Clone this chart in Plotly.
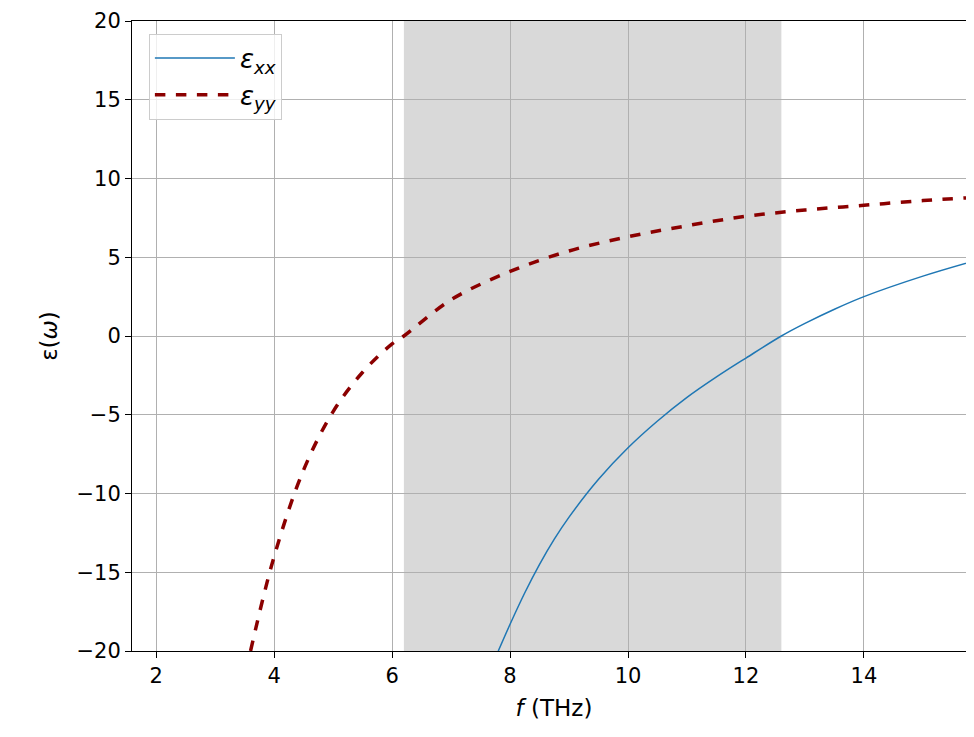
import plotly.graph_objects as go

# values
f_yy = [3.6, 4.0, 4.5, 5.0, 5.5, 6.0, 6.2, 7.0, 8.0, 9.0, 10.0, 11.0, 12.0, 13.0, 14.0, 15.0, 15.9]
eps_yy = [-20.0, -14.0, -8.5, -4.8, -2.3, -0.5, 0.0, 2.3, 4.1, 5.4, 6.3, 7.0, 7.6, 8.0, 8.3, 8.6, 8.8]

f_xx = [7.8, 8.0, 8.25, 8.5, 8.75, 9.0, 9.5, 10.0, 10.5, 11.0, 11.5, 12.0, 12.6, 13.0, 13.5, 14.0, 15.0, 15.9]
eps_xx = [-20.0, -18.3, -16.3, -14.5, -12.9, -11.5, -9.1, -7.1, -5.4, -3.9, -2.6, -1.4, 0.0, 0.8, 1.7, 2.5, 3.8, 4.8]

band = [6.2, 12.6]

fig = go.Figure()
fig.add_vrect(x0=band[0], x1=band[1], fillcolor="#d9d9d9", line_width=0, layer="below")
fig.add_trace(go.Scatter(x=f_xx, y=eps_xx, mode="lines", name="<i>ε<sub>xx</sub></i>",
                         line=dict(color="#1f77b4", width=1.5, shape="spline")))
fig.add_trace(go.Scatter(x=f_yy, y=eps_yy, mode="lines", name="<i>ε<sub>yy</sub></i>",
                         line=dict(color="#8b0000", width=3.5, dash="dash", shape="spline")))

axis = dict(showgrid=True, gridcolor="#b0b0b0", gridwidth=1, showline=True, linecolor="black",
            mirror=True, ticks="outside", ticklen=6, tickcolor="black", zeroline=False,
            automargin=False, tickfont=dict(size=21, color="black"))
fig.update_layout(
    width=974, height=737,
    paper_bgcolor="white", plot_bgcolor="rgba(0,0,0,0)",
    font=dict(family="DejaVu Sans", size=21, color="black"),
    margin=dict(l=124, r=6, t=13, b=94),
    showlegend=True,
    legend=dict(x=0.02, y=0.98, xanchor="left", yanchor="top", bordercolor="#cccccc",
                borderwidth=1, bgcolor="rgba(255,255,255,0.8)", font=dict(size=26),
                itemwidth=80, tracegroupgap=10),
    xaxis=dict(axis, range=[1.59, 15.9], dtick=2,
               title=dict(text="<i>f</i> (THz)", font=dict(size=23), standoff=12)),
    yaxis=dict(axis, range=[-20, 20], dtick=5,
               title=dict(text="ε(<i>ω</i>)", font=dict(size=23), standoff=12)),
)
fig.write_html("out.html")
